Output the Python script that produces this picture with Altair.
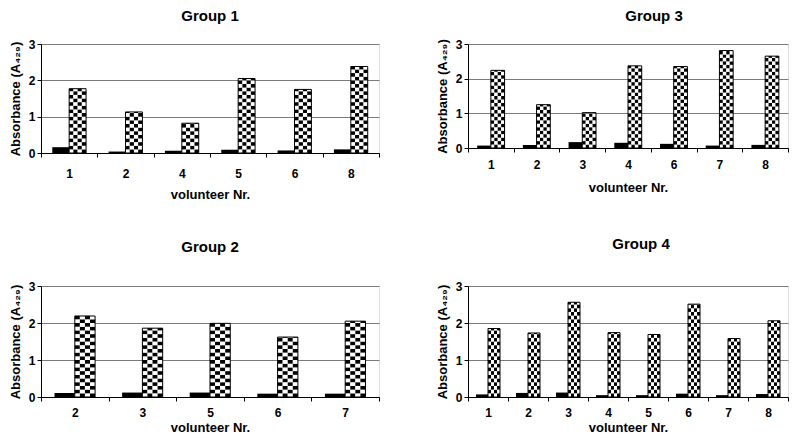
import json
import altair as alt
import pandas as pd

FONT = "Liberation Sans"

# ---- data ----
g1_vol = ["1", "2", "4", "5", "6", "8"]
g1_ctrl = [0.16, 0.04, 0.06, 0.09, 0.07, 0.10]
g1_test = [1.77, 1.13, 0.82, 2.05, 1.75, 2.38]

g3_vol = ["1", "2", "3", "4", "6", "7", "8"]
g3_ctrl = [0.07, 0.09, 0.17, 0.15, 0.12, 0.07, 0.09]
g3_test = [2.24, 1.25, 1.02, 2.37, 2.35, 2.81, 2.65]

g2_vol = ["2", "3", "5", "6", "7"]
g2_ctrl = [0.11, 0.12, 0.12, 0.09, 0.09]
g2_test = [2.19, 1.86, 1.99, 1.62, 2.05]

g4_vol = ["1", "2", "3", "4", "5", "6", "7", "8"]
g4_ctrl = [0.07, 0.11, 0.12, 0.05, 0.05, 0.09, 0.05, 0.08]
g4_test = [1.85, 1.73, 2.56, 1.74, 1.69, 2.51, 1.58, 2.06]

y_ticks = [0, 1, 2, 3]


def build_table(ctrl, test):
    """Rectangles in data units: black control bar, checkered test bar cells, outline."""
    rows = []
    ncol, cell_h = 4, 0.1
    for i, (c, t) in enumerate(zip(ctrl, test)):
        rows.append(dict(x0=i + 0.2, x1=i + 0.5, y0=0.0, y1=c, fill="black", kind="fill"))
        k = 0
        while k * cell_h < t - 1e-9:
            y0 = k * cell_h
            y1 = min((k + 1) * cell_h, t)
            for col in range(ncol):
                cw = 0.3 / ncol
                x0 = i + 0.5 + col * cw
                rows.append(dict(x0=x0, x1=x0 + cw, y0=y0, y1=y1,
                                 fill="black" if (k + col) % 2 == 1 else "white",
                                 kind="fill"))
            k += 1
        rows.append(dict(x0=i + 0.5, x1=i + 0.8, y0=0.0, y1=t, fill="none", kind="outline"))
    return pd.DataFrame(rows)


def panel(title, vols, ctrl, test, w, h, title_offset, title_dx,
          xlab_pad, xtitle_pad):
    n = len(vols)
    df = build_table(ctrl, test)
    label_expr = f"{json.dumps(vols)}[datum.value] || ''"
    x = alt.X("x0:Q",
              scale=alt.Scale(domain=[0, n], nice=False, zero=False),
              axis=alt.Axis(values=list(range(n + 1)), labelExpr=label_expr,
                            labelOffset={"condition": {"test": f"datum.value >= {n}", "value": 0},
                                         "value": w / (2 * n)},
                            labelFlush=False,
                            labelOverlap=False, labelBound=False,
                            grid=False, domainColor="black", tickColor="black",
                            tickSize=4, labelPadding=xlab_pad,
                            labelFont=FONT, labelFontSize=12, labelFontWeight="bold",
                            labelColor="black",
                            title="volunteer Nr.", titleFont=FONT, titleFontSize=13,
                            titleFontWeight="bold", titleColor="black",
                            titlePadding=xtitle_pad))
    y = alt.Y("y0:Q",
              scale=alt.Scale(domain=[0, 3], nice=False),
              axis=alt.Axis(values=y_ticks, format="d", grid=True, gridColor="#7a7a7a",
                            gridWidth=1, domainColor="black", tickColor="black",
                            tickSize=4, labelPadding=2,
                            labelFont=FONT, labelFontSize=12, labelFontWeight="bold",
                            labelColor="black",
                            title="Absorbance (A₄₂₉)", titleFont=FONT, titleFontSize=13,
                            titleFontWeight="bold", titleColor="black", titlePadding=6))
    base = alt.Chart(df)
    fills = base.transform_filter(alt.datum.kind == "fill").mark_rect().encode(
        x=x, x2="x1:Q", y=y, y2="y1:Q",
        color=alt.Color("fill:N", scale=None),
    )
    outline = base.transform_filter(alt.datum.kind == "outline").mark_rect(
        filled=False, stroke="black", strokeWidth=1
    ).encode(x=x, x2="x1:Q", y=y, y2="y1:Q")
    return alt.layer(fills, outline).properties(
        width=w, height=h,
        title=alt.TitleParams(title, font=FONT, fontSize=15, fontWeight="bold",
                              color="black", anchor="middle", frame="group",
                              offset=title_offset, dx=title_dx),
    )


p1 = panel("Group 1", g1_vol, g1_ctrl, g1_test, 338, 109, 14, 0, 11, 9)
p3 = panel("Group 3", g3_vol, g3_ctrl, g3_test, 320, 104, 14, 26, 7, 11)
p2 = panel("Group 2", g2_vol, g2_ctrl, g2_test, 338, 111, 25, 0, 6, 3)
p4 = panel("Group 4", g4_vol, g4_ctrl, g4_test, 320, 111, 28, 13, 6, 3)

chart = alt.concat(
    p1, p3, p2, p4, columns=2, bounds="flush",
    spacing={"row": 133, "column": 89},
).properties(padding=0).configure_view(
    stroke="#a0a0a0", strokeWidth=1
).configure(background="white")

chart.save("out.html", embed_options={"renderer": "svg", "actions": False})
